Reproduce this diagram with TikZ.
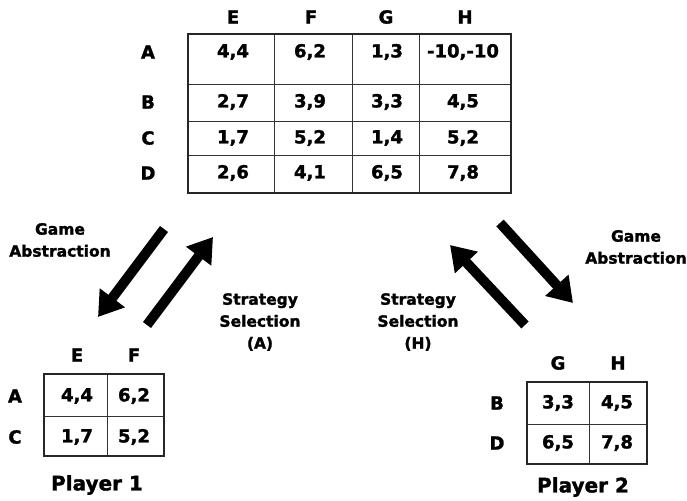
\documentclass[tikz,border=0pt]{standalone}
\usepackage{fontspec}
\setmainfont{DejaVu Sans}[BoldFeatures={FakeBold=1.6}]
\usetikzlibrary{arrows.meta}
\tikzset{
  lbl/.style={font=\bfseries\fontsize{18}{20}\selectfont, inner sep=0pt},
  captxt/.style={font=\bfseries\fontsize{15.5}{22}\selectfont, inner sep=0pt, align=center},
  ply/.style={font=\bfseries\fontsize{20}{22}\selectfont, inner sep=0pt},
  outer/.style={line width=2.2pt, draw=black!85},
  inner/.style={line width=1.1pt, draw=black!80},
  bigarrow/.style={line width=10pt, -{Triangle[length=24pt,width=30pt]}},
}
\begin{document}
\begin{tikzpicture}[x=1pt,y=-1pt]
\useasboundingbox (0,0) rectangle (687,500);
% ---------- main table ----------
\draw[inner] (274.3,34.3) -- (274.3,192.7) (352.3,34.3) -- (352.3,192.7) (419.3,34.3) -- (419.3,192.7);
\draw[inner] (188.3,84.3) -- (511,84.3) (188.3,121.7) -- (511,121.7) (188.3,155.7) -- (511,155.7);
\draw[outer] (188.3,34.3) rectangle (511,192.7);
\node[lbl] (hE) at (233,17) {E};
\node[lbl] (hF) at (311,17) {F};
\node[lbl] (hG) at (386,17) {G};
\node[lbl] (hH) at (465,17) {H};
\node[lbl] (rA) at (148,52) {A};
\node[lbl] (rB) at (148,102) {B};
\node[lbl] (rC) at (148,138) {C};
\node[lbl] (rD) at (148,173) {D};
\node[lbl] (aE) at (233,52) {4,4};
\node[lbl] (aF) at (310,52) {6,2};
\node[lbl] (aG) at (387,52) {1,3};
\node[lbl] (aH) at (463,52) {-10,-10};
\node[lbl] (bE) at (233,102) {2,7};
\node[lbl] (bF) at (310,102) {3,9};
\node[lbl] (bG) at (387,102) {3,3};
\node[lbl] (bH) at (463,102) {4,5};
\node[lbl] (cE) at (233,138) {1,7};
\node[lbl] (cF) at (310,138) {5,2};
\node[lbl] (cG) at (387,138) {1,4};
\node[lbl] (cH) at (463,138) {5,2};
\node[lbl] (dE) at (233,173) {2,6};
\node[lbl] (dF) at (310,173) {4,1};
\node[lbl] (dG) at (387,173) {6,5};
\node[lbl] (dH) at (463,173) {7,8};
% ---------- player 1 table ----------
\draw[inner] (107.3,374.3) -- (107.3,456) (44.3,416.7) -- (164,416.7);
\draw[outer] (44.3,374.3) rectangle (164,456);
\node[lbl] (p1E) at (77,355) {E};
\node[lbl] (p1F) at (134,355) {F};
\node[lbl] (p1A) at (15,396) {A};
\node[lbl] (p1C) at (15,437) {C};
\node[lbl] (p1aE) at (77,396) {4,4};
\node[lbl] (p1aF) at (134,396) {6,2};
\node[lbl] (p1cE) at (77,437) {1,7};
\node[lbl] (p1cF) at (134,437) {5,2};
\node[ply] (pl1) at (97,485) {Player 1};
% ---------- player 2 table ----------
\draw[inner] (589.3,382.3) -- (589.3,464.3) (526.7,424.3) -- (647.3,424.3);
\draw[outer] (526.7,382.3) rectangle (647.3,464.3);
\node[lbl] (p2G) at (558,363) {G};
\node[lbl] (p2H) at (618,363) {H};
\node[lbl] (p2B) at (497,403) {B};
\node[lbl] (p2D) at (497,443) {D};
\node[lbl] (p2bG) at (558,403) {3,3};
\node[lbl] (p2bH) at (617,403) {4,5};
\node[lbl] (p2dG) at (558,443) {6,5};
\node[lbl] (p2dH) at (617,443) {7,8};
\node[ply] (pl2) at (583,487) {Player 2};
% ---------- captions ----------
\node[captxt] (ga1) at (60,240) {Game\\Abstraction};
\node[captxt] (ss1) at (260,322) {Strategy\\Selection\\(A)};
\node[captxt] (ga2) at (636,247) {Game\\Abstraction};
\node[captxt] (ss2) at (418,322) {Strategy\\Selection\\(H)};
% ---------- arrows ----------
\coordinate (a1s) at (164,229);
\coordinate (a1e) at (98,317);
\coordinate (a2s) at (147,325);
\coordinate (a2e) at (213,237);
\coordinate (a3s) at (525,325);
\coordinate (a3e) at (450,245);
\coordinate (a4s) at (500,223);
\coordinate (a4e) at (573,303);
\draw[bigarrow] (a1s) -- (a1e);
\draw[bigarrow] (a2s) -- (a2e);
\draw[bigarrow] (a3s) -- (a3e);
\draw[bigarrow] (a4s) -- (a4e);
\end{tikzpicture}
\end{document}
